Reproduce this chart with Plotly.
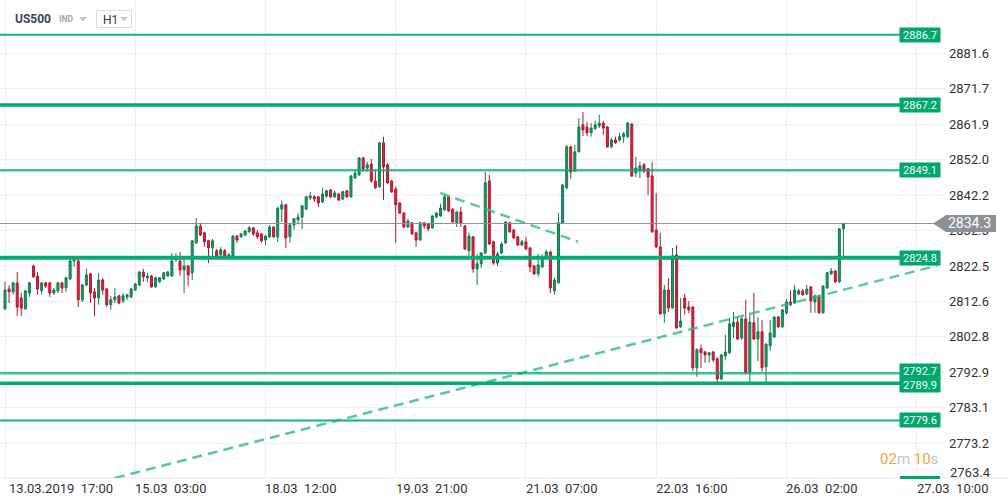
import plotly.graph_objects as go

# ---------------- data ----------------
opens = [2810.6, 2816.1, 2815.3, 2817.8, 2813.6, 2810.6, 2815.0, 2822.5, 2819.7, 2815.6,
         2817.8, 2817.8, 2815.0, 2815.6, 2817.8, 2816.4, 2818.9, 2823.9, 2823.9, 2813.1,
         2817.2, 2820.3, 2815.3, 2813.6, 2818.6, 2816.1, 2811.7, 2813.1, 2814.2, 2812.8,
         2813.9, 2813.9, 2815.8, 2817.2, 2820.8, 2819.2, 2819.7, 2816.7, 2818.1, 2818.9,
         2819.7, 2819.7, 2824.2, 2823.9, 2821.4, 2822.5, 2820.6, 2828.9, 2833.6, 2831.7,
         2829.5, 2827.5, 2826.7, 2825.6, 2826.7, 2825.0, 2825.3, 2830.8, 2830.6, 2831.1,
         2832.0, 2833.1, 2831.7, 2831.4, 2829.7, 2830.6, 2833.3, 2830.6, 2838.3, 2839.5,
         2830.6, 2833.9, 2835.3, 2836.1, 2838.3, 2841.4, 2841.7, 2841.7, 2840.3, 2841.9,
         2843.6, 2841.7, 2842.5, 2841.1, 2843.4, 2841.7, 2846.9, 2847.8, 2852.5, 2849.7,
         2850.8, 2846.1, 2844.5, 2856.7, 2850.6, 2846.1, 2843.9, 2840.0, 2837.2, 2833.3,
         2834.5, 2831.7, 2829.7, 2834.5, 2834.2, 2833.1, 2836.1, 2836.4, 2838.1, 2841.7,
         2838.3, 2834.5, 2837.5, 2833.6, 2826.7, 2830.6, 2821.7, 2823.1, 2826.1, 2846.1,
         2829.2, 2823.3, 2826.1, 2828.9, 2834.5, 2832.5, 2830.6, 2828.3, 2829.2, 2827.5,
         2822.5, 2820.3, 2822.2, 2825.0, 2826.4, 2815.6, 2817.8, 2834.5, 2844.2, 2855.6,
         2848.9, 2854.2, 2861.7, 2861.1, 2859.5, 2860.6, 2861.4, 2862.2, 2861.1, 2855.6,
         2857.5, 2857.5, 2858.4, 2858.4, 2861.9, 2848.3, 2848.9, 2850.6, 2849.5, 2847.5,
         2832.5, 2827.8, 2809.2, 2815.8, 2810.8, 2825.6, 2805.6, 2813.6, 2811.1, 2811.1,
         2794.2, 2799.5, 2798.6, 2797.8, 2798.6, 2796.7, 2791.1, 2797.5, 2798.4, 2805.6,
         2806.9, 2802.5, 2807.8, 2792.8, 2806.7, 2802.2, 2804.2, 2794.5, 2800.3, 2802.8,
         2808.3, 2805.6, 2809.5, 2812.5, 2812.2, 2814.7, 2815.6, 2814.7, 2816.7, 2812.5,
         2813.9, 2809.5, 2816.4, 2820.3, 2821.1, 2818.1, 2832.8]
highs = [2818.1, 2817.2, 2818.1, 2820.8, 2815.0, 2815.8, 2818.1, 2822.8, 2820.8, 2818.1,
         2818.1, 2818.1, 2816.4, 2818.1, 2818.1, 2819.5, 2824.5, 2825.0, 2824.5, 2817.5,
         2821.7, 2820.6, 2816.4, 2820.6, 2819.2, 2816.4, 2814.2, 2816.4, 2814.5, 2815.0,
         2814.7, 2816.4, 2817.8, 2821.1, 2821.7, 2820.6, 2820.0, 2819.5, 2819.5, 2820.8,
         2821.1, 2826.1, 2826.1, 2826.4, 2824.2, 2822.8, 2829.7, 2835.8, 2834.5, 2832.0,
         2829.7, 2830.0, 2827.2, 2827.8, 2827.2, 2826.1, 2831.1, 2831.1, 2831.7, 2832.5,
         2833.6, 2833.3, 2832.5, 2831.7, 2831.1, 2833.9, 2833.6, 2838.9, 2840.6, 2839.8,
         2834.5, 2835.8, 2837.2, 2839.5, 2841.9, 2843.1, 2842.2, 2841.9, 2844.2, 2843.6,
         2843.9, 2843.4, 2842.8, 2843.4, 2843.6, 2847.8, 2849.2, 2852.8, 2852.8, 2851.4,
         2852.2, 2849.2, 2856.9, 2858.4, 2851.1, 2846.4, 2844.5, 2840.3, 2837.5, 2835.6,
         2834.7, 2832.0, 2834.7, 2834.7, 2834.5, 2836.6, 2837.5, 2839.8, 2842.2, 2841.9,
         2838.6, 2837.8, 2838.9, 2833.9, 2831.7, 2830.8, 2825.8, 2826.4, 2848.6, 2847.8,
         2829.5, 2826.4, 2829.2, 2835.0, 2834.7, 2832.8, 2830.8, 2829.7, 2830.6, 2827.8,
         2822.8, 2825.8, 2825.8, 2827.0, 2826.7, 2819.2, 2837.2, 2845.3, 2856.1, 2855.8,
         2856.1, 2863.6, 2865.3, 2862.5, 2862.2, 2862.8, 2864.5, 2862.8, 2861.4, 2858.1,
         2858.4, 2859.5, 2859.7, 2862.5, 2862.2, 2852.8, 2851.4, 2851.1, 2849.7, 2851.4,
         2842.8, 2831.7, 2817.2, 2819.2, 2827.5, 2828.3, 2813.6, 2814.7, 2812.8, 2811.4,
         2799.7, 2800.6, 2798.9, 2798.6, 2798.9, 2797.2, 2798.1, 2803.4, 2808.1, 2809.7,
         2808.3, 2808.3, 2813.1, 2809.5, 2815.0, 2808.3, 2807.5, 2801.1, 2807.5, 2808.6,
         2808.6, 2810.6, 2813.3, 2815.6, 2817.2, 2816.1, 2816.1, 2817.2, 2816.9, 2814.5,
         2814.5, 2817.2, 2820.8, 2821.9, 2821.4, 2833.1, 2834.5]
lows = [2810.3, 2812.2, 2814.5, 2808.6, 2808.6, 2810.3, 2813.9, 2819.2, 2814.5, 2814.5,
        2816.4, 2813.9, 2814.5, 2815.0, 2815.0, 2815.3, 2818.6, 2822.2, 2811.1, 2812.5,
        2816.9, 2812.2, 2808.6, 2811.7, 2814.5, 2811.1, 2810.3, 2812.2, 2811.9, 2812.2,
        2813.1, 2813.6, 2815.6, 2816.9, 2818.1, 2818.1, 2816.4, 2816.4, 2817.8, 2818.6,
        2819.5, 2819.5, 2823.6, 2819.7, 2815.0, 2816.9, 2818.6, 2828.6, 2830.8, 2827.8,
        2823.3, 2825.0, 2825.0, 2825.0, 2824.7, 2824.7, 2825.0, 2828.9, 2830.3, 2830.8,
        2831.7, 2830.8, 2830.0, 2828.9, 2828.3, 2830.3, 2830.3, 2829.2, 2834.7, 2827.5,
        2828.9, 2832.5, 2834.2, 2832.8, 2838.1, 2840.8, 2840.3, 2838.9, 2840.0, 2841.4,
        2841.4, 2841.4, 2840.6, 2840.8, 2841.4, 2841.4, 2846.7, 2847.5, 2848.6, 2848.6,
        2845.6, 2843.9, 2844.2, 2840.8, 2845.3, 2842.8, 2828.9, 2836.9, 2833.1, 2833.1,
        2831.1, 2827.8, 2829.5, 2832.8, 2832.2, 2832.8, 2835.8, 2836.1, 2837.8, 2837.5,
        2834.5, 2833.3, 2833.3, 2827.0, 2825.0, 2820.6, 2817.2, 2821.9, 2825.8, 2828.3,
        2822.8, 2822.5, 2825.8, 2828.6, 2831.7, 2830.0, 2828.1, 2828.1, 2827.0, 2820.8,
        2820.0, 2819.5, 2822.0, 2824.7, 2815.0, 2814.5, 2817.5, 2834.2, 2843.9, 2846.7,
        2848.6, 2854.0, 2858.6, 2858.6, 2858.4, 2860.3, 2860.8, 2858.9, 2855.3, 2855.3,
        2856.4, 2857.0, 2856.7, 2858.1, 2847.2, 2847.2, 2846.9, 2848.3, 2842.2, 2831.7,
        2827.5, 2808.9, 2806.7, 2809.7, 2810.6, 2805.0, 2805.3, 2808.9, 2809.4, 2793.3,
        2791.7, 2794.2, 2795.6, 2795.6, 2795.8, 2790.3, 2790.8, 2796.4, 2798.1, 2802.5,
        2801.9, 2801.9, 2792.5, 2790.0, 2801.9, 2796.1, 2793.1, 2790.0, 2798.9, 2802.5,
        2805.3, 2805.3, 2808.9, 2811.4, 2812.0, 2814.5, 2814.2, 2814.5, 2809.5, 2809.5,
        2809.2, 2809.2, 2816.1, 2820.0, 2817.8, 2817.8, 2825.3]
closes = [2815.8, 2815.3, 2817.8, 2811.1, 2810.8, 2815.6, 2817.8, 2819.5, 2816.1, 2817.8,
          2816.9, 2815.0, 2815.8, 2817.8, 2816.4, 2819.2, 2823.9, 2824.5, 2813.1, 2817.2,
          2820.0, 2815.0, 2813.6, 2818.6, 2815.8, 2811.7, 2813.1, 2813.9, 2812.2, 2814.2,
          2814.5, 2816.1, 2817.5, 2820.8, 2819.5, 2819.7, 2816.7, 2819.2, 2819.2, 2820.6,
          2820.8, 2823.9, 2825.0, 2821.4, 2822.5, 2820.0, 2829.5, 2833.6, 2831.1, 2829.2,
          2827.5, 2829.5, 2825.3, 2827.0, 2825.0, 2825.6, 2830.8, 2829.7, 2831.4, 2832.2,
          2833.1, 2831.4, 2830.6, 2829.5, 2830.8, 2833.3, 2830.6, 2838.6, 2839.5, 2830.3,
          2833.9, 2835.6, 2836.1, 2839.2, 2841.7, 2841.9, 2841.1, 2840.0, 2842.5, 2843.4,
          2841.7, 2842.8, 2840.8, 2843.1, 2841.7, 2847.5, 2848.3, 2852.5, 2849.5, 2850.6,
          2846.1, 2844.2, 2856.7, 2850.0, 2845.6, 2843.1, 2839.5, 2837.2, 2833.3, 2835.0,
          2831.4, 2829.7, 2834.5, 2833.6, 2832.8, 2836.4, 2837.2, 2838.6, 2841.7, 2837.8,
          2834.7, 2837.5, 2834.5, 2827.2, 2830.8, 2821.7, 2823.1, 2826.1, 2845.6, 2828.6,
          2823.3, 2825.8, 2828.6, 2834.7, 2832.0, 2830.3, 2828.3, 2829.2, 2827.2, 2822.2,
          2820.3, 2822.8, 2825.0, 2826.4, 2816.4, 2818.6, 2834.5, 2845.0, 2855.6, 2848.6,
          2854.2, 2861.1, 2860.3, 2859.5, 2860.8, 2861.7, 2862.2, 2860.8, 2855.6, 2857.5,
          2856.7, 2858.4, 2859.2, 2862.2, 2847.5, 2849.7, 2850.3, 2848.9, 2847.2, 2832.0,
          2827.8, 2809.2, 2815.8, 2810.8, 2825.3, 2805.3, 2807.2, 2810.8, 2810.3, 2794.2,
          2799.2, 2798.4, 2797.8, 2798.4, 2796.4, 2791.1, 2797.8, 2798.6, 2806.4, 2806.9,
          2802.2, 2807.8, 2792.8, 2806.9, 2802.2, 2804.2, 2794.2, 2800.8, 2803.9, 2808.3,
          2805.6, 2810.3, 2812.5, 2811.7, 2815.8, 2815.6, 2814.5, 2816.1, 2812.8, 2814.2,
          2809.5, 2816.9, 2820.6, 2821.1, 2818.1, 2832.8, 2834.3]

tick_idx = [0, 32, 64, 96, 128, 160, 192, 224]
tick_labels = ["13.03.2019  17:00", "15.03  03:00", "18.03  12:00", "19.03  21:00",
               "21.03  07:00", "22.03  16:00", "26.03  02:00", "27.03  10:00"]
price_ticks = [2881.6, 2871.7, 2861.9, 2852.0, 2842.2, 2832.3, 2822.5,
               2812.6, 2802.8, 2792.9, 2783.1, 2773.2]
bottom_tick = 2763.4
levels = [2886.7, 2867.2, 2849.1, 2824.8, 2792.7, 2789.9, 2779.6]
last_price = 2834.3
trend_up_x = [27.0, 229.0]
trend_up_y = [2763.6, 2822.6]
trend_dn_x = [106.9, 140.8]
trend_dn_y = [2842.8, 2829.2]

# ---------------- styles / layout geometry ----------------
W, H = 1008, 504
PW, PH = 945, 478                # plot area in pixels (left=0, top=0)
level_width = [2, 3.5, 2.5, 4, 2.5, 3.5, 2]
level_color = ["#14b27b", "#00ae72", "rgba(0,172,112,0.75)", "#00ae72",
               "rgba(0,172,112,0.75)", "#00ae72", "#14b27b"]
level_label_shift = [0, 0, 0, 0, 2, -2, 0]
GREEN = "#00a86b"
FONT = "Roboto"


def px(x):
    return x / PW


def py(y):
    return (PH - y) / PH


x_idx = list(range(len(opens)))

fig = go.Figure()
fig.add_trace(go.Candlestick(
    x=x_idx, open=opens, high=highs, low=lows, close=closes,
    increasing=dict(line=dict(color="#127a4c", width=1), fillcolor="#1f9a63"),
    decreasing=dict(line=dict(color="#b0172e", width=1), fillcolor="#d92740"),
    whiskerwidth=0, hoverinfo="skip", showlegend=False,
))
for tx, ty in ((trend_up_x, trend_up_y), (trend_dn_x, trend_dn_y)):
    fig.add_trace(go.Scatter(
        x=tx, y=ty, mode="lines", hoverinfo="skip", showlegend=False,
        line=dict(color="rgba(40,190,130,0.8)", width=2.5, dash="10px,6px"),
    ))

shapes = []
annotations = []

# level lines with labels
for lv, lw, lc, sh in zip(levels, level_width, level_color, level_label_shift):
    shapes.append(dict(type="line", xref="paper", yref="y", x0=0, x1=px(902),
                       y0=lv, y1=lv, line=dict(color=lc, width=lw), layer="above"))
    annotations.append(dict(xref="paper", yref="y", x=px(920), xanchor="center", y=lv,
                            yanchor="middle", yshift=sh,
                            text=f"{lv:.1f}", showarrow=False, bgcolor=GREEN,
                            width=38, height=12, borderpad=1,
                            font=dict(family=FONT, size=11, color="white")))

# clipped level box at bottom right
shapes.append(dict(type="rect", xref="paper", yref="paper", x0=px(900), x1=px(940),
                   y0=py(479), y1=py(476), fillcolor=GREEN, line=dict(width=0), layer="above"))

# current price line and tag
shapes.append(dict(type="line", xref="paper", yref="y", x0=0, x1=1, y0=last_price, y1=last_price,
                   line=dict(color="#8a9094", width=1), layer="above"))
yc = PH - (last_price - 2763.6) * 3.6  # pixel row of the last price (for tag geometry only)
tag_path = (f"M {px(933)},{py(yc)} L {px(946)},{py(yc - 8.5)} L {px(996)},{py(yc - 8.5)} "
            f"L {px(996)},{py(yc + 8.5)} L {px(946)},{py(yc + 8.5)} Z")
shapes.append(dict(type="path", xref="paper", yref="paper", path=tag_path,
                   fillcolor="#8b9195", line=dict(width=0), layer="above"))
annotations.append(dict(xref="paper", yref="y", x=px(946), xanchor="left", y=last_price,
                        yanchor="middle",
                        text=f"{last_price:.1f}", showarrow=False,
                        font=dict(family=FONT, size=14, color="white")))

# bottom axis line across the page
shapes.append(dict(type="line", xref="paper", yref="paper", x0=0, x1=px(W), y0=0, y1=0,
                   line=dict(color="#e6e6e6", width=1), layer="below"))

# x tick labels (left aligned at their gridlines)
for ti, tl in zip(tick_idx, tick_labels):
    annotations.append(dict(xref="x", yref="paper", x=ti, y=0, xanchor="left", yanchor="middle",
                            xshift=-2 if ti else 2, yshift=-10,
                            text=tl.replace("  ", "\u00a0\u00a0"), showarrow=False,
                            font=dict(family=FONT, size=13, color="#333333")))

# bottom price tick (drawn lifted, as in the reference)
annotations.append(dict(xref="paper", yref="paper", x=px(948), y=py(472), xanchor="left",
                        yanchor="middle", text=f"{bottom_tick:.1f}", showarrow=False,
                        font=dict(family=FONT, size=13, color="#333333")))

# countdown
annotations.append(dict(xref="paper", yref="paper", x=px(940), y=py(459), xanchor="right",
                        yanchor="middle", showarrow=False,
                        text=("<span style='color:#f6a23a'>02</span><span style='color:#c4c4c4'>m</span> "
                              "<span style='color:#f6a23a'>10</span><span style='color:#c4c4c4'>s</span>"),
                        font=dict(family=FONT, size=15)))

# header
annotations.append(dict(xref="paper", yref="paper", x=px(13), y=py(19), xanchor="left",
                        yanchor="middle", text="<b>US500</b>", showarrow=False,
                        font=dict(family=FONT, size=12, color="#3d4450")))
annotations.append(dict(xref="paper", yref="paper", x=px(57), y=py(19), xanchor="left",
                        yanchor="middle", text="<b>IND</b>", showarrow=False,
                        font=dict(family=FONT, size=8.5, color="#a3a7ab")))
shapes.append(dict(type="path", xref="paper", yref="paper",
                   path=f"M {px(79)},{py(17)} L {px(87)},{py(17)} L {px(83)},{py(21.5)} Z",
                   fillcolor="#c2c2c2", line=dict(width=0), layer="above"))
shapes.append(dict(type="rect", xref="paper", yref="paper", x0=px(96.5), x1=px(131.5),
                   y0=py(27.5), y1=py(10.5), fillcolor="white",
                   line=dict(color="#dcdcdc", width=1), layer="above"))
annotations.append(dict(xref="paper", yref="paper", x=px(101), y=py(19.5), xanchor="left",
                        yanchor="middle", text="H1", showarrow=False,
                        font=dict(family=FONT, size=12, color="#333333")))
shapes.append(dict(type="path", xref="paper", yref="paper",
                   path=f"M {px(120)},{py(17)} L {px(128)},{py(17)} L {px(124)},{py(21.5)} Z",
                   fillcolor="#c8c8c8", line=dict(width=0), layer="above"))

fig.update_layout(
    width=W, height=H,
    margin=dict(l=0, r=W - PW, t=0, b=H - PH, pad=0),
    paper_bgcolor="white", plot_bgcolor="white",
    font=dict(family=FONT, size=13, color="#333333"),
    showlegend=False, hovermode=False,
    shapes=shapes, annotations=annotations,
    xaxis=dict(range=[-5 / 4.07, (PW - 5) / 4.07], tickvals=tick_idx, showticklabels=False,
               showgrid=True, gridcolor="#eeeeee", gridwidth=1, zeroline=False,
               showline=False, ticks="", rangeslider=dict(visible=False), fixedrange=True),
    yaxis=dict(range=[2763.6, 2763.6 + PH / 3.6], side="right", tickvals=price_ticks,
               ticktext=[f"{v:.1f}" for v in price_ticks], showgrid=True,
               gridcolor="#eeeeee", gridwidth=1, zeroline=False, showline=False,
               ticks="", ticklabelstandoff=3, automargin=False,
               tickfont=dict(family=FONT, size=13, color="#333333"), fixedrange=True),
)

fig.write_html("out.html", config={"displayModeBar": False},
               post_script="document.body.style.margin='0';document.body.style.overflow='hidden';")
